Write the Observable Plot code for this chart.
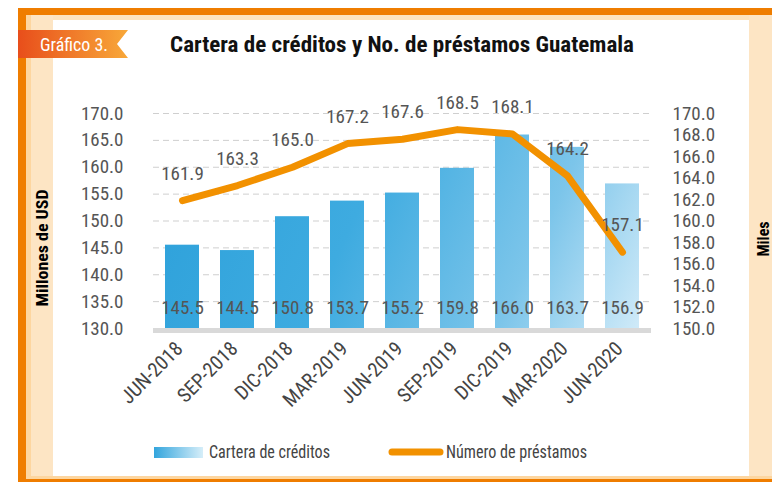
<!DOCTYPE html>
<html>
<head>
<meta charset="utf-8">
<script src="https://cdn.jsdelivr.net/npm/d3@7"></script>
<script src="https://cdn.jsdelivr.net/npm/@observablehq/plot@0.6"></script>
<style>
  html, body { margin: 0; padding: 0; background: #fff; }
  #wrap { position: relative; width: 772px; height: 482px; overflow: hidden; background: #fff;
    font-family: "Liberation Sans Narrow", "Roboto Condensed", "DejaVu Sans Condensed", Roboto, sans-serif; }
  .abs { position: absolute; }
  #chart { position: absolute; left: 0; top: 0; }
  #chart svg { background: transparent !important; }
</style>
</head>
<body>
<div id="wrap">
  <!-- frame -->
  <div class="abs" style="left:26px;top:15px;width:746px;height:5px;background:#fde3bd"></div>
  <div class="abs" style="left:26px;top:15px;width:5px;height:461px;background:#fdd6a0"></div>
  <div class="abs" style="left:31px;top:15px;width:22px;height:461px;background:#fde5c4"></div>
  <div class="abs" style="left:749px;top:15px;width:23px;height:461px;background:#fde5c4"></div>
  <div class="abs" style="left:26px;top:476px;width:746px;height:3px;background:#fdd6a0"></div>
  <div class="abs" style="left:18px;top:479px;width:754px;height:3px;background:#ef7d00"></div>
  <div class="abs" style="left:18px;top:8px;width:754px;height:7px;background:#ef7d00"></div>
  <div class="abs" style="left:18px;top:8px;width:8px;height:474px;background:#ef7d00"></div>
  <!-- badge -->
  <svg class="abs" style="left:0;top:0" width="140" height="70">
    <defs>
      <linearGradient id="badgeGrad" x1="0" x2="1" y1="0" y2="0">
        <stop offset="0" stop-color="#e84e1b"/>
        <stop offset="1" stop-color="#f8a839"/>
      </linearGradient>
    </defs>
    <polygon points="18,30 128,30 117,44 128,58 18,58" fill="url(#badgeGrad)"/>
    <text x="40" y="51" fill="#fff" font-size="18" textLength="68" lengthAdjust="spacingAndGlyphs" font-family="Liberation Sans Narrow, Roboto Condensed, Roboto, sans-serif">Gráfico 3.</text>
  </svg>
  <!-- title -->
  <svg class="abs" style="left:0;top:0" width="772" height="70">
    <text x="170" y="52" fill="#111" font-size="22" font-weight="bold" textLength="464" lengthAdjust="spacingAndGlyphs"
      font-family="Liberation Sans Narrow, Roboto Condensed, Roboto, sans-serif">Cartera de créditos y No. de préstamos Guatemala</text>
  </svg>
  <div id="chart"></div>
  <!-- axis titles -->
  <svg class="abs" style="left:0;top:0" width="772" height="482" pointer-events="none">
    <text transform="translate(48,248) rotate(-90)" text-anchor="middle" font-size="17" font-weight="bold" fill="#000"
      textLength="117" lengthAdjust="spacingAndGlyphs"
      font-family="Liberation Sans Narrow, Roboto Condensed, Roboto, sans-serif">Millones de USD</text>
    <text transform="translate(769,239) rotate(-90)" text-anchor="middle" font-size="17" font-weight="bold" fill="#000"
      textLength="35" lengthAdjust="spacingAndGlyphs"
      font-family="Liberation Sans Narrow, Roboto Condensed, Roboto, sans-serif">Miles</text>
  </svg>
  <!-- legend -->
  <svg class="abs" style="left:0;top:0" width="772" height="482" pointer-events="none">
    <defs>
      <linearGradient id="legGrad" x1="0" x2="1" y1="0" y2="0">
        <stop offset="0" stop-color="#33a5dd"/>
        <stop offset="1" stop-color="#d6eef9"/>
      </linearGradient>
    </defs>
    <rect x="154" y="447" width="49" height="11" fill="url(#legGrad)"/>
    <text x="209" y="458" font-size="18" fill="#444" textLength="121" lengthAdjust="spacingAndGlyphs" font-family="Liberation Sans Narrow, Roboto Condensed, Roboto, sans-serif">Cartera de créditos</text>
    <line x1="392" x2="440" y1="452" y2="452" stroke="#f29100" stroke-width="7" stroke-linecap="round"/>
    <text x="446" y="458" font-size="18" fill="#444" textLength="141" lengthAdjust="spacingAndGlyphs" font-family="Liberation Sans Narrow, Roboto Condensed, Roboto, sans-serif">Número de préstamos</text>
  </svg>
</div>
<script>
// ---- data ----
const periods = ["JUN-2018","SEP-2018","DIC-2018","MAR-2019","JUN-2019","SEP-2019","DIC-2019","MAR-2020","JUN-2020"];
const cartera = [145.5, 144.5, 150.8, 153.7, 155.2, 159.8, 166.0, 163.7, 156.9];   // Millones de USD
const prestamos = [161.9, 163.3, 165.0, 167.2, 167.6, 168.5, 168.1, 164.2, 157.1]; // Miles
const leftTicks = [130,135,140,145,150,155,160,165,170];
const rightTicks = [150,152,154,156,158,160,162,164,166,168,170];

const rows = periods.map((p, i) => ({period: p, cartera: cartera[i], prestamos: prestamos[i]}));
// map right-axis (Miles 150–170) onto left-axis (USD 130–170) domain
const toLeft = v => 130 + (v - 150) * 2;

const FONT = "Liberation Sans Narrow, Roboto Condensed, Roboto, sans-serif";

const defs = () => {
  const ns = "http://www.w3.org/2000/svg";
  const d = document.createElementNS(ns, "defs");
  const g = document.createElementNS(ns, "linearGradient");
  g.setAttribute("id", "barGrad");
  g.setAttribute("gradientUnits", "userSpaceOnUse");
  g.setAttribute("x1", "200"); g.setAttribute("y1", "130");
  g.setAttribute("x2", "660"); g.setAttribute("y2", "340");
  [[0,"#2fa2db"],[0.35,"#3eabe0"],[0.7,"#7cc5ea"],[1,"#dff1fb"]].forEach(([o,c]) => {
    const s = document.createElementNS(ns, "stop");
    s.setAttribute("offset", o); s.setAttribute("stop-color", c);
    g.appendChild(s);
  });
  d.appendChild(g);
  return d;
};

const chart = Plot.plot({
  width: 772,
  height: 482,
  marginLeft: 153,
  marginRight: 121,
  marginTop: 113,
  marginBottom: 154,
  style: {background: "transparent", fontFamily: FONT, fontSize: "19px", color: "#555"},
  x: {domain: periods, paddingInner: 0.385, paddingOuter: 0.19, axis: null},
  y: {domain: [130, 170], axis: null},
  marks: [
    defs,
    Plot.ruleY([135,140,145,150,155,160,165,170], {stroke: "#cfcfcf", strokeWidth: 1, strokeDasharray: "6,4"}),
    Plot.barY(rows, {x: "period", y1: 130, y2: "cartera", fill: "url(#barGrad)"}),
    Plot.ruleY([130], {stroke: "#d9d9d9", strokeWidth: 5, dy: 2}),
    Plot.axisY(leftTicks, {anchor: "left", tickSize: 0, tickPadding: 30, tickFormat: d => d.toFixed(1), fontSize: 19, fill: "#555", label: null}),
    Plot.axisY(rightTicks.map(toLeft), {anchor: "right", tickSize: 0, tickPadding: 21, tickFormat: d => (150 + (d - 130) / 2).toFixed(1), fontSize: 19, fill: "#555", label: null}),
    Plot.text(rows, {x: "period", y: 130, dy: -21, text: d => d.cartera.toFixed(1), fontSize: 19, fill: "#555", lineAnchor: "middle"}),
    Plot.line(rows, {x: "period", y: d => toLeft(d.prestamos), stroke: "#f29100", strokeWidth: 7, strokeLinejoin: "round", strokeLinecap: "round"}),
    Plot.text(rows, {x: "period", y: d => toLeft(d.prestamos), dy: -27, text: d => d.prestamos.toFixed(1), fontSize: 19, fill: "#555", lineAnchor: "middle"}),
    Plot.text(periods, {x: d => d, y: 130, dx: -3, dy: 17, rotate: -45, textAnchor: "end", lineAnchor: "middle", fontSize: 20, fill: "#444", text: d => d})
  ]
});
document.getElementById("chart").appendChild(chart);
</script>
</body>
</html>
